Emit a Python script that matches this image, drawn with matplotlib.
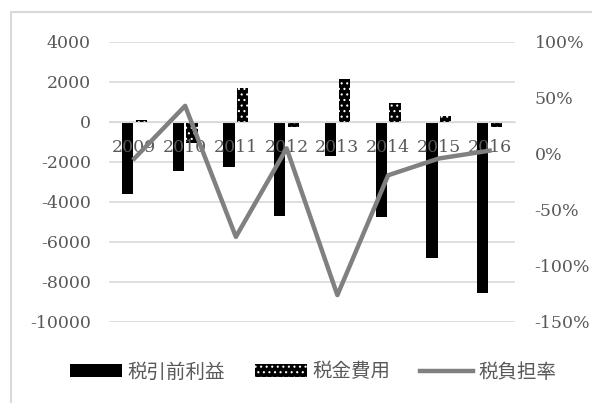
import numpy as np
import matplotlib
matplotlib.use("Agg")
import matplotlib.pyplot as plt
from matplotlib.patches import Rectangle
from matplotlib.lines import Line2D

years = ['2009', '2010', '2011', '2012', '2013', '2014', '2015', '2016']
pretax_profit = [-3600, -2450, -2230, -4700, -1680, -4730, -6820, -8530]
tax_expense = [120, -1030, 1680, -270, 2130, 970, 320, -230]
tax_rate = [-4, 43, -74, 5, -126, -19, -4, 3]  # %

left_ticks = [4000, 2000, 0, -2000, -4000, -6000, -8000, -10000]
right_ticks = [100, 50, 0, -50, -100, -150]

label_names = ['税引前利益', '税金費用', '税負担率']

txt = '#595959'
grid = '#d9d9d9'
line_col = '#808080'

plt.rcParams['font.family'] = ['DejaVu Serif']
plt.rcParams['hatch.linewidth'] = 0.8

fig = plt.figure(figsize=(5.92, 4.03), dpi=100)
# chart frame
fig.patches.append(Rectangle((11 / 592, -0.02), 1.0, 1 - 12 / 403 + 0.02,
                             transform=fig.transFigure, fill=False,
                             edgecolor=grid, linewidth=1.5))

ax = fig.add_axes([109 / 592, 1 - 322 / 403, 406 / 592, 280 / 403])
x = np.arange(len(years))
w = 0.225
off = 0.135

ax.bar(x - off, pretax_profit, w, color='black', zorder=2)
ax.bar(x + off, tax_expense, w, facecolor='black', edgecolor='white',
       linewidth=0, hatch='...', zorder=2)

ax.set_xlim(-0.5, len(years) - 0.5)
ax.set_ylim(-10000, 4000)
ax.set_yticks(left_ticks)
ax.set_yticklabels([str(v) for v in left_ticks])
ax.yaxis.grid(True, color=grid, linewidth=1.2)
ax.set_axisbelow(True)
ax.tick_params(axis='y', length=0, pad=13, labelsize=12.5, labelcolor=txt)

ax.spines['bottom'].set_position(('data', 0))
ax.spines['bottom'].set_color(grid)
for s in ['top', 'right', 'left']:
    ax.spines[s].set_visible(False)
ax.set_xticks(x)
ax.set_xticklabels(years)
ax.tick_params(axis='x', length=0, pad=12, labelsize=12.5, labelcolor=txt)
# year labels sit on top of the bars
ax.xaxis.set_zorder(3)

ax2 = ax.twinx()
ax2.plot(x, tax_rate, color=line_col, linewidth=3.2, zorder=3)
ax2.set_ylim(-150, 100)
ax2.set_yticks(right_ticks)
ax2.set_yticklabels([f'{v}%' for v in right_ticks])
ax2.tick_params(axis='y', length=0, pad=14, labelsize=12.5, labelcolor=txt)
for s in ['top', 'right', 'left', 'bottom']:
    ax2.spines[s].set_visible(False)

handles = [
    Rectangle((0, 0), 1, 1, facecolor='black'),
    Rectangle((0, 0), 1, 1, facecolor='black', edgecolor='white',
              linewidth=0, hatch='...'),
    Line2D([0], [0], color=line_col, linewidth=3.2),
]
leg = fig.legend(handles, label_names, loc='center', ncol=3,
                 bbox_to_anchor=(313 / 592, 1 - 372 / 403), frameon=False,
                 prop={'family': ['Noto Sans CJK JP'], 'size': 14},
                 handlelength=2.7, handleheight=0.6, handletextpad=0.3,
                 columnspacing=1.5, labelcolor=txt)

fig.savefig('out.png', dpi=100)
